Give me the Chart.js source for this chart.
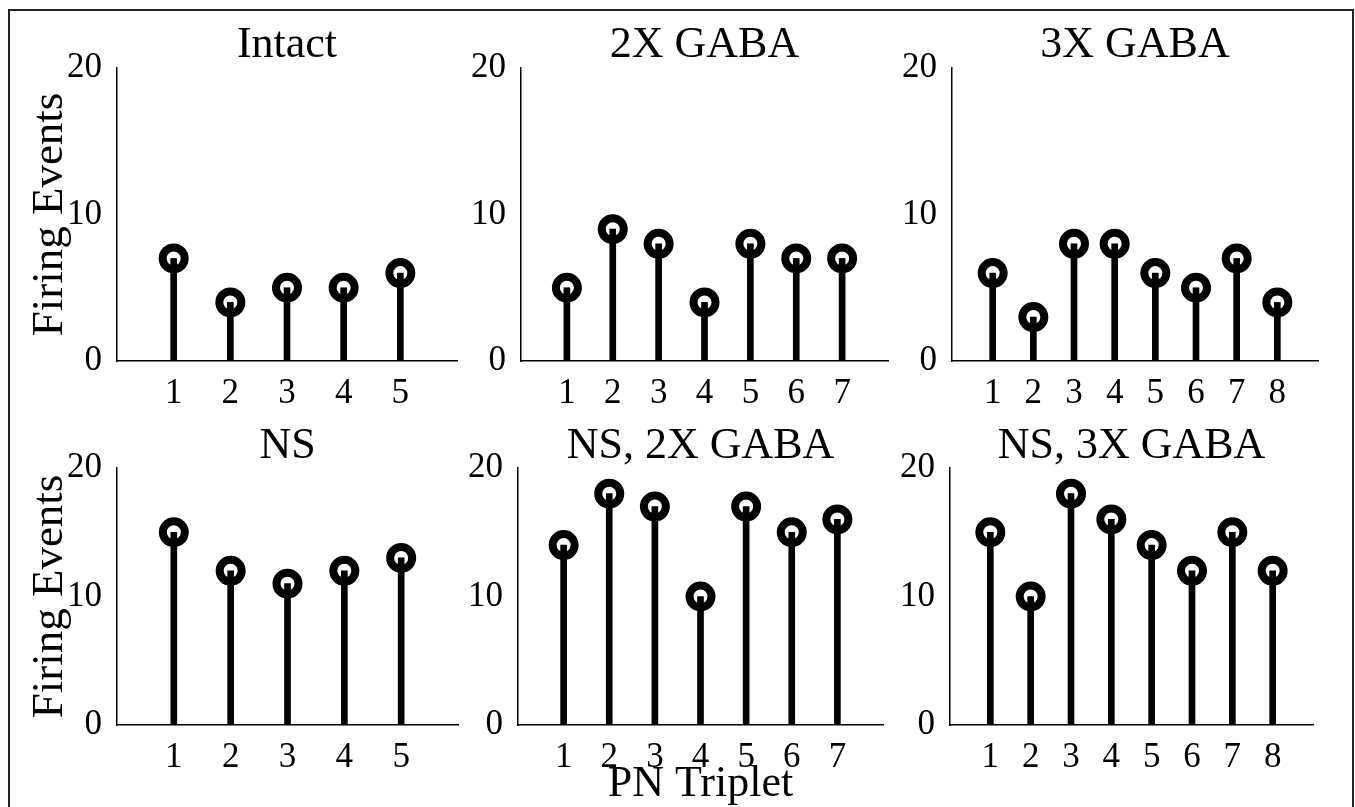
<!DOCTYPE html>
<html lang="en">
<head>
  <meta charset="UTF-8">
  <title>Firing Events per PN Triplet</title>
  <script src="https://cdn.jsdelivr.net/npm/chart.js@4.4.1/dist/chart.umd.min.js"></script>
  <style>
    html, body { margin: 0; padding: 0; background: #fff; overflow: hidden; }
    #stage { position: relative; width: 1355px; height: 807px; }
    #frame { position: absolute; left: 8px; top: 9px; width: 1346px; height: 830px;
             border: 2px solid #222; box-sizing: border-box; }
    canvas { position: absolute; left: 0; top: 0; }
  </style>
</head>
<body>
<div id="stage">
  <div id="frame"></div>
  <canvas id="c1" width="1355" height="807"></canvas>
  <canvas id="c2" width="1355" height="807"></canvas>
  <canvas id="c3" width="1355" height="807"></canvas>
  <canvas id="c4" width="1355" height="807"></canvas>
  <canvas id="c5" width="1355" height="807"></canvas>
  <canvas id="c6" width="1355" height="807"></canvas>
</div>

<script>
  // firing events for each PN triplet
  const intact     = [7, 4, 5, 5, 6];
  const gaba2x     = [5, 9, 8, 4, 8, 7, 7];
  const gaba3x     = [6, 3, 8, 8, 6, 5, 7, 4];
  const ns         = [15, 12, 11, 12, 13];
  const nsGaba2x   = [14, 18, 17, 10, 17, 15, 16];
  const nsGaba3x   = [15, 10, 18, 16, 14, 12, 15, 12];

  const panelTitles = ['Intact', '2X GABA', '3X GABA', 'NS', 'NS, 2X GABA', 'NS, 3X GABA'];
  const yTicks = [0, 10, 20];
  const yLabel = 'Firing Events';
  const xLabel = 'PN Triplet';

  const W = 1355, H = 807;
  const SERIF = '"Liberation Serif", "DejaVu Serif", serif';

  // plot-area boxes in page pixels (left, right, top, bottom, title centre)
  const boxes = [
    { left: 117, right: 457,  top: 68,  bottom: 361, titleY: 45.5 },
    { left: 521, right: 888,  top: 68,  bottom: 361, titleY: 45.5 },
    { left: 952, right: 1318, top: 68,  bottom: 361, titleY: 45.5 },
    { left: 117, right: 458,  top: 468, bottom: 725, titleY: 446 },
    { left: 518, right: 883,  top: 468, bottom: 725, titleY: 446 },
    { left: 950, right: 1313, top: 468, bottom: 725, titleY: 446 }
  ];

  function createStemChart(id, title, values, box, showY, showX) {
    const pts = values.map((v, i) => ({ x: i + 1, y: v }));
    const xMax = values.length + 1;
    const titleTop = box.titleY - 22;

    new Chart(document.getElementById(id), {
      type: 'bar',
      data: {
        datasets: [
          {
            type: 'bar',
            data: pts,
            backgroundColor: '#000',
            barThickness: 6,
            order: 0
          },
          {
            type: 'line',
            data: pts,
            showLine: false,
            pointRadius: 11,
            pointBorderWidth: 8,
            pointBackgroundColor: '#fff',
            pointBorderColor: '#000',
            clip: false,
            order: 1
          }
        ]
      },
      options: {
        responsive: false,
        animation: false,
        events: [],
        layout: {
          autoPadding: false,
          padding: { left: 0, right: W - box.right, top: titleTop, bottom: 0 }
        },
        plugins: {
          legend: { display: false },
          tooltip: { enabled: false },
          title: {
            display: true,
            text: title,
            fullSize: false,
            color: '#000',
            font: { family: SERIF, size: 44, weight: 'normal', lineHeight: 1 },
            padding: { top: 0, bottom: box.top - titleTop - 44 }
          }
        },
        scales: {
          x: {
            type: 'linear',
            min: 0,
            max: xMax,
            offset: false,
            afterFit: s => { s.height = H - box.bottom; },
            grid: { display: false, offset: false },
            border: { color: '#000', width: 1.5 },
            ticks: {
              stepSize: 1,
              autoSkip: false,
              maxRotation: 0,
              padding: 4,
              color: '#000',
              font: { family: SERIF, size: 35 },
              callback: v => (v > 0 && v < xMax) ? String(v) : ''
            },
            title: {
              display: showX,
              text: xLabel,
              color: '#000',
              font: { family: SERIF, size: 44, lineHeight: 1 },
              padding: { top: 0, bottom: 1 }
            }
          },
          y: {
            min: 0,
            max: 20,
            afterFit: s => { s.width = box.left; },
            afterBuildTicks: s => { s.ticks = yTicks.map(v => ({ value: v })); },
            grid: { display: false },
            border: { color: '#000', width: 1.5 },
            ticks: {
              padding: 7,
              color: '#000',
              font: { family: SERIF, size: 35 }
            },
            title: {
              display: showY,
              text: yLabel,
              color: '#000',
              font: { family: SERIF, size: 45, lineHeight: 1 },
              padding: { top: 28, bottom: 0 }
            }
          }
        }
      }
    });
  }

  createStemChart('c1', panelTitles[0], intact,   boxes[0], true,  false);
  createStemChart('c2', panelTitles[1], gaba2x,   boxes[1], false, false);
  createStemChart('c3', panelTitles[2], gaba3x,   boxes[2], false, false);
  createStemChart('c4', panelTitles[3], ns,       boxes[3], true,  false);
  createStemChart('c5', panelTitles[4], nsGaba2x, boxes[4], false, true);
  createStemChart('c6', panelTitles[5], nsGaba3x, boxes[5], false, false);
</script>
</body>
</html>
